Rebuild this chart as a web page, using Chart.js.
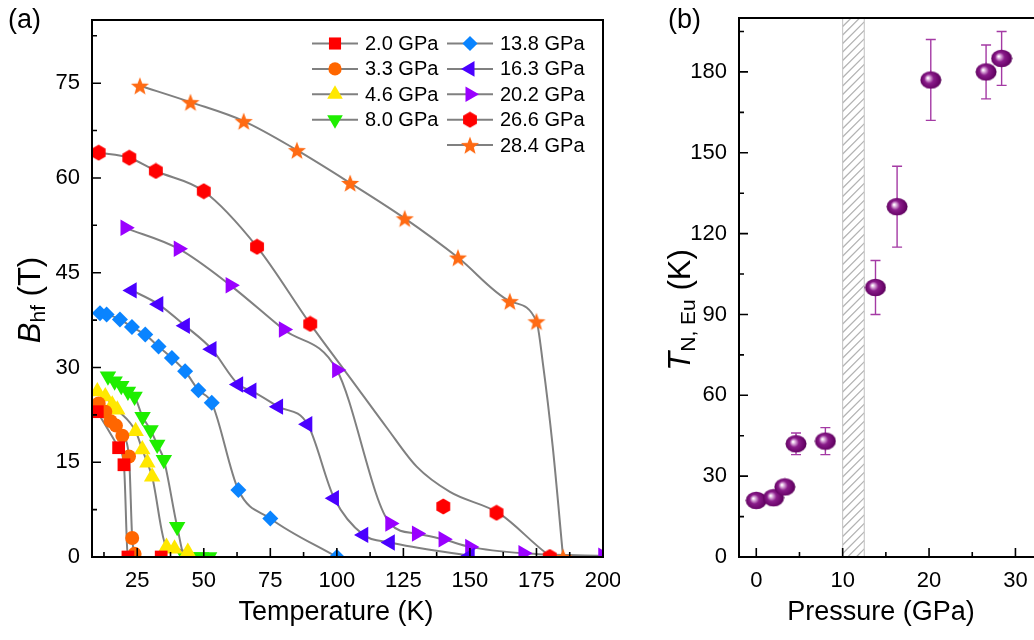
<!DOCTYPE html>
<html>
<head>
<meta charset="utf-8">
<script src="https://cdn.jsdelivr.net/npm/chart.js@4.4.1/dist/chart.umd.min.js"></script>
<style>
  html, body { margin: 0; padding: 0; background: #fff; overflow: hidden; width: 1034px; height: 640px; }
  #wrapA { position: absolute; left: 0; top: 0; width: 620px; height: 640px; }
  #wrapB { position: absolute; left: 630px; top: 0; width: 430px; height: 640px; }
  .lab { position: absolute; font-family: "Liberation Sans", Arial, sans-serif; font-size: 27px; color: #000; white-space: nowrap; line-height: 1; }
  .xt { transform: translateX(-50%); }
  .yt { transform: translate(-50%, -50%) rotate(-90deg); font-size: 31px; }
  .yt sub { font-size: 21px; vertical-align: -0.25em; }
</style>
</head>
<body>
<div id="wrapA"><canvas id="chartA" width="620" height="640"></canvas></div>
<div id="wrapB"><canvas id="chartB" width="430" height="640"></canvas></div>

<div class="lab" style="left:8px;top:6px;">(a)</div>
<div class="lab" style="left:668px;top:6px;">(b)</div>
<div class="lab xt" style="left:336px;top:598px;">Temperature (K)</div>
<div class="lab xt" style="left:881px;top:598px;">Pressure (GPa)</div>
<div class="lab yt" style="left:31px;top:300px;"><i>B</i><sub>hf</sub> (T)</div>
<div class="lab yt" style="left:681px;top:310px;"><i>T</i><sub>N, Eu</sub> (K)</div>

<script>
// ---- (a) hyperfine field vs temperature, one pair of arrays per pressure ----
const seriesLabels = ['2.0 GPa', '3.3 GPa', '4.6 GPa', '8.0 GPa', '13.8 GPa', '16.3 GPa', '20.2 GPa', '26.6 GPa', '28.4 GPa'];

const temp_2_0 = [10, 18, 20, 21.5, 34];
const bhf_2_0  = [23, 17.3, 14.6, 0, 0];

const temp_3_3 = [10.5, 13, 15, 17, 19.4, 21.9, 23.1, 24];
const bhf_3_3  = [24.3, 23, 21.5, 20.8, 19.2, 15.9, 3.0, 0.5];

const temp_4_6 = [10, 13, 15.6, 17.5, 24.4, 26.9, 28.8, 30.6, 36, 39, 44];
const bhf_4_6  = [26.2, 25.4, 24.1, 23.3, 19.9, 17, 14.9, 12.7, 1.6, 1.3, 0.8];

const temp_8_0 = [14, 16.5, 19, 21.5, 24, 27, 30, 32.5, 35, 40, 43, 46, 49, 52];
const bhf_8_0  = [28.6, 27.8, 27.1, 26.2, 25.4, 22.2, 20.1, 17.8, 15.4, 4.8, 0, 0, 0, 0];

const temp_13_8 = [11, 13.5, 18.5, 23, 28, 33, 38, 43, 48, 53, 63, 75, 100];
const bhf_13_8  = [38.6, 38.4, 37.6, 36.4, 35.2, 33.3, 31.5, 29.4, 26.4, 24.4, 10.6, 6.1, 0];

const temp_16_3 = [23, 33, 43, 53, 63, 68, 78, 89, 99, 110, 120, 150];
const bhf_16_3  = [42.2, 40, 36.6, 32.9, 27.3, 26.3, 23.8, 21, 9.3, 3.5, 2.3, 0.2];

const temp_20_2 = [20.5, 40.5, 60, 80, 100, 120, 130, 140, 150, 170, 200];
const bhf_20_2  = [52.1, 48.8, 43, 36, 29.6, 5.3, 3.7, 2.8, 1.6, 0.6, 0.2];

const temp_26_6 = [10.5, 22, 32, 50, 70, 90, 140, 160, 180];
const bhf_26_6  = [64, 63.2, 61.1, 57.9, 49.1, 36.9, 8, 7, 0];

const temp_28_4 = [26, 45, 65, 85, 105, 125.5, 145.5, 165, 175, 185];
const bhf_28_4  = [74.6, 72, 69, 64.4, 59.2, 53.6, 47.4, 40.5, 37.3, 0];

// fitted guide curves where they leave the points
const fitTemp_26_6 = [10.5, 22, 32, 50, 70, 90, 105.6, 118.7, 130, 142.5, 161, 178.7, 181];
const fitBhf_26_6  = [64, 63.2, 61.1, 57.9, 49.1, 36.9, 28, 20.5, 14.3, 10.3, 6.9, 0.6, 0];
const fitTemp_28_4 = [26, 45, 65, 85, 105, 125.5, 145.5, 165, 175, 177.4, 181.1, 185];
const fitBhf_28_4  = [74.6, 72, 69, 64.4, 59.2, 53.6, 47.4, 40.5, 37.3, 30.7, 17.5, 0];

// ---- (b) Neel temperature vs pressure ----
const pressure  = [0, 2.0, 3.3, 4.6, 8.0, 13.8, 16.3, 20.2, 26.6, 28.4];
const tNeel     = [21, 22, 26, 42, 43, 100, 130, 177, 180, 185];
const tNeelErr  = [0, 0, 0, 4, 5, 10, 15, 15, 10, 10];
const hatchFrom = 10;
const hatchTo   = 12.5;

const allTemp = [temp_2_0, temp_3_3, temp_4_6, temp_8_0, temp_13_8, temp_16_3, temp_20_2, temp_26_6, temp_28_4];
const allBhf  = [bhf_2_0, bhf_3_3, bhf_4_6, bhf_8_0, bhf_13_8, bhf_16_3, bhf_20_2, bhf_26_6, bhf_28_4];
const lineTemp = [temp_2_0, temp_3_3, temp_4_6, temp_8_0, temp_13_8, temp_16_3, temp_20_2, fitTemp_26_6, fitTemp_28_4];
const lineBhf  = [bhf_2_0, bhf_3_3, bhf_4_6, bhf_8_0, bhf_13_8, bhf_16_3, bhf_20_2, fitBhf_26_6, fitBhf_28_4];

const FONT = '"Liberation Sans", Arial, sans-serif';
const lineGray = '#808080';

// marker images for shapes chart.js does not have
function makeMarker(w, h, draw) {
    const c = document.createElement('canvas');
    c.width = w; c.height = h;
    draw(c.getContext('2d'), w / 2, h / 2);
    return c;
}

const hexMarker = makeMarker(16, 17, function (g, cx, cy) {
    g.fillStyle = '#ff0000';
    g.beginPath();
    for (let k = 0; k < 6; k++) {
        const a = Math.PI / 2 + k * Math.PI / 3;
        g.lineTo(cx + 8 * Math.cos(a), cy + 8 * Math.sin(a));
    }
    g.closePath();
    g.fill();
});

const starMarker = makeMarker(20, 20, function (g, cx, cy) {
    g.fillStyle = '#ff6a13';
    g.beginPath();
    for (let k = 0; k < 10; k++) {
        const r = k % 2 === 0 ? 9.5 : 4;
        const a = -Math.PI / 2 + k * Math.PI / 5;
        g.lineTo(cx + r * Math.cos(a), cy + 1 + r * Math.sin(a));
    }
    g.closePath();
    g.fill();
});

const ballMarker = makeMarker(22, 19, function (g, cx, cy) {
    const grad = g.createRadialGradient(cx - 3, cy - 2, 0.5, cx, cy, 11);
    grad.addColorStop(0, '#ffffff');
    grad.addColorStop(0.15, '#d9a6d9');
    grad.addColorStop(0.4, '#8a1c8a');
    grad.addColorStop(0.8, '#6a056a');
    grad.addColorStop(1, '#4c004c');
    g.fillStyle = grad;
    g.beginPath();
    g.ellipse(cx, cy, 10.5, 8.8, 0, 0, Math.PI * 2);
    g.fill();
});

const markers = [
    { style: 'rect', r: 9, rot: 0, color: '#ff0000' },
    { style: 'circle', r: 7, rot: 0, color: '#ff6600' },
    { style: 'triangle', r: 9.5, rot: 0, color: '#ffe800' },
    { style: 'triangle', r: 9.5, rot: 180, color: '#1eee00' },
    { style: 'rectRot', r: 8, rot: 0, color: '#0a84ff' },
    { style: 'triangle', r: 9.5, rot: -90, color: '#4a00ff' },
    { style: 'triangle', r: 9.5, rot: 90, color: '#9a00ff' },
    { style: hexMarker, r: 8, rot: 0, color: '#ff0000' },
    { style: starMarker, r: 9, rot: 0, color: '#ff6a13' }
];

function points(xs, ys) {
    return xs.map((v, k) => ({ x: v, y: ys[k] }));
}

// frame box with inward major/minor ticks on bottom and left
const frameTicks = {
    id: 'frameTicks',
    afterDraw(chart) {
        const { ctx, chartArea: a, scales } = chart;
        ctx.save();
        ctx.strokeStyle = '#000';
        ctx.lineWidth = 2;
        ctx.strokeRect(a.left, a.top, a.right - a.left, a.bottom - a.top);
        ctx.lineWidth = 1.6;
        ctx.beginPath();
        ['x', 'y'].forEach(function (id) {
            const s = scales[id];
            const vals = s.ticks.map(t => t.value);
            const step = vals[1] - vals[0];
            const draw = function (v, len) {
                const p = s.getPixelForValue(v);
                if (id === 'x') { ctx.moveTo(p, a.bottom); ctx.lineTo(p, a.bottom - len); }
                else { ctx.moveTo(a.left, p); ctx.lineTo(a.left + len, p); }
            };
            vals.forEach(v => draw(v, 9));
            for (let k = -1; k < vals.length; k++) {
                const m = vals[0] + (k + 0.5) * step;
                if (m > s.min && m < s.max) draw(m, 5);
            }
        });
        ctx.stroke();
        ctx.restore();
    }
};

const legendA = {
    id: 'legendA',
    afterDraw(chart) {
        const ctx = chart.ctx;
        ctx.save();
        ctx.font = '20px ' + FONT;
        ctx.textBaseline = 'middle';
        for (let i = 0; i < seriesLabels.length; i++) {
            const col = i < 4 ? 0 : 1;
            const row = i < 4 ? i : i - 4;
            const x0 = col === 0 ? 312 : 447;
            const y = 43.5 + row * 25.4;
            ctx.strokeStyle = lineGray;
            ctx.lineWidth = 2;
            ctx.beginPath();
            ctx.moveTo(x0, y);
            ctx.lineTo(x0 + 46, y);
            ctx.stroke();
            const m = markers[i];
            ctx.fillStyle = m.color;
            Chart.helpers.drawPoint(ctx, { pointStyle: m.style, radius: m.r * 0.95, rotation: m.rot, borderWidth: 0 }, x0 + 23, y);
            ctx.fillStyle = '#000';
            ctx.fillText(seriesLabels[i], x0 + 53, y + 1);
        }
        ctx.restore();
    }
};

function tickFont() { return { family: FONT, size: 22 }; }

// keep the chart area where the frame should be: drop label overhang paddings
function fixW(w) { return function (s) { s.width = w; s.paddingTop = 0; s.paddingBottom = 0; }; }
function fixH(h) { return function (s) { s.height = h; s.paddingLeft = 0; s.paddingRight = 0; }; }

const dsA = [];
lineTemp.forEach(function (t, i) {
    dsA.push({
        data: points(t, lineBhf[i]),
        showLine: true,
        pointRadius: 0,
        borderColor: lineGray,
        borderWidth: 2,
        cubicInterpolationMode: 'monotone',
        order: 20,
        clip: 0
    });
});
allTemp.forEach(function (t, i) {
    const m = markers[i];
    dsA.push({
        label: seriesLabels[i],
        data: points(t, allBhf[i]),
        showLine: false,
        pointStyle: m.style,
        pointRadius: m.r,
        pointRotation: m.rot,
        backgroundColor: m.color,
        borderColor: m.color,
        borderWidth: 0,
        order: i,
        clip: 0
    });
});

new Chart(document.getElementById('chartA'), {
    type: 'scatter',
    data: { datasets: dsA },
    options: {
        responsive: false,
        animation: false,
        events: [],
        layout: { padding: { top: 20, right: 17, left: 0, bottom: 0 } },
        plugins: { legend: { display: false }, tooltip: { enabled: false } },
        scales: {
            x: {
                type: 'linear', min: 8, max: 200,
                grid: { display: false, drawTicks: false },
                border: { display: false },
                ticks: { stepSize: 25, includeBounds: false, font: tickFont(), color: '#000', padding: 11, maxRotation: 0 },
                afterFit: fixH(83)
            },
            y: {
                type: 'linear', min: 0, max: 85,
                grid: { display: false, drawTicks: false },
                border: { display: false },
                ticks: { stepSize: 15, includeBounds: false, font: tickFont(), color: '#000', padding: 12 },
                afterFit: fixW(92)
            }
        }
    },
    plugins: [frameTicks, legendA]
});

// ---- (b) ----
const hatchAndErrors = {
    id: 'hatchAndErrors',
    beforeDatasetsDraw(chart) {
        const { ctx, chartArea: a, scales: { x, y } } = chart;
        const x1 = x.getPixelForValue(hatchFrom);
        const x2 = x.getPixelForValue(hatchTo);
        const w = x2 - x1;
        ctx.save();
        ctx.beginPath();
        ctx.rect(x1, a.top, w, a.bottom - a.top);
        ctx.clip();
        ctx.strokeStyle = '#b4b4b4';
        ctx.lineWidth = 1.3;
        ctx.beginPath();
        for (let yy = a.top - w; yy < a.bottom + w; yy += 8.5) {
            ctx.moveTo(x1, yy + w);
            ctx.lineTo(x2, yy);
        }
        ctx.stroke();
        ctx.restore();
        ctx.save();
        ctx.strokeStyle = '#c0c0c0';
        ctx.lineWidth = 1;
        ctx.beginPath();
        ctx.moveTo(x1, a.top); ctx.lineTo(x1, a.bottom);
        ctx.moveTo(x2, a.top); ctx.lineTo(x2, a.bottom);
        ctx.stroke();
        // error bars
        ctx.strokeStyle = '#a43aa4';
        ctx.lineWidth = 1.4;
        ctx.beginPath();
        pressure.forEach(function (p, i) {
            if (!tNeelErr[i]) return;
            const px = x.getPixelForValue(p);
            const yt = y.getPixelForValue(tNeel[i] + tNeelErr[i]);
            const yb = y.getPixelForValue(tNeel[i] - tNeelErr[i]);
            ctx.moveTo(px, yt); ctx.lineTo(px, yb);
            ctx.moveTo(px - 5, yt); ctx.lineTo(px + 5, yt);
            ctx.moveTo(px - 5, yb); ctx.lineTo(px + 5, yb);
        });
        ctx.stroke();
        ctx.restore();
    }
};

new Chart(document.getElementById('chartB'), {
    type: 'scatter',
    data: {
        datasets: [{
            label: 'T N,Eu',
            data: points(pressure, tNeel),
            pointStyle: ballMarker,
            pointRadius: 9,
            clip: false
        }]
    },
    options: {
        responsive: false,
        animation: false,
        events: [],
        layout: { padding: { top: 18, right: 7, left: 0, bottom: 0 } },
        plugins: { legend: { display: false }, tooltip: { enabled: false } },
        scales: {
            x: {
                type: 'linear', min: -2, max: 34,
                grid: { display: false, drawTicks: false },
                border: { display: false },
                ticks: { stepSize: 10, includeBounds: false, font: tickFont(), color: '#000', padding: 11, maxRotation: 0 },
                afterFit: fixH(83)
            },
            y: {
                type: 'linear', min: 0, max: 200,
                grid: { display: false, drawTicks: false },
                border: { display: false },
                ticks: { stepSize: 30, includeBounds: false, font: tickFont(), color: '#000', padding: 12 },
                afterFit: fixW(109)
            }
        }
    },
    plugins: [hatchAndErrors, frameTicks]
});
</script>
</body>
</html>
